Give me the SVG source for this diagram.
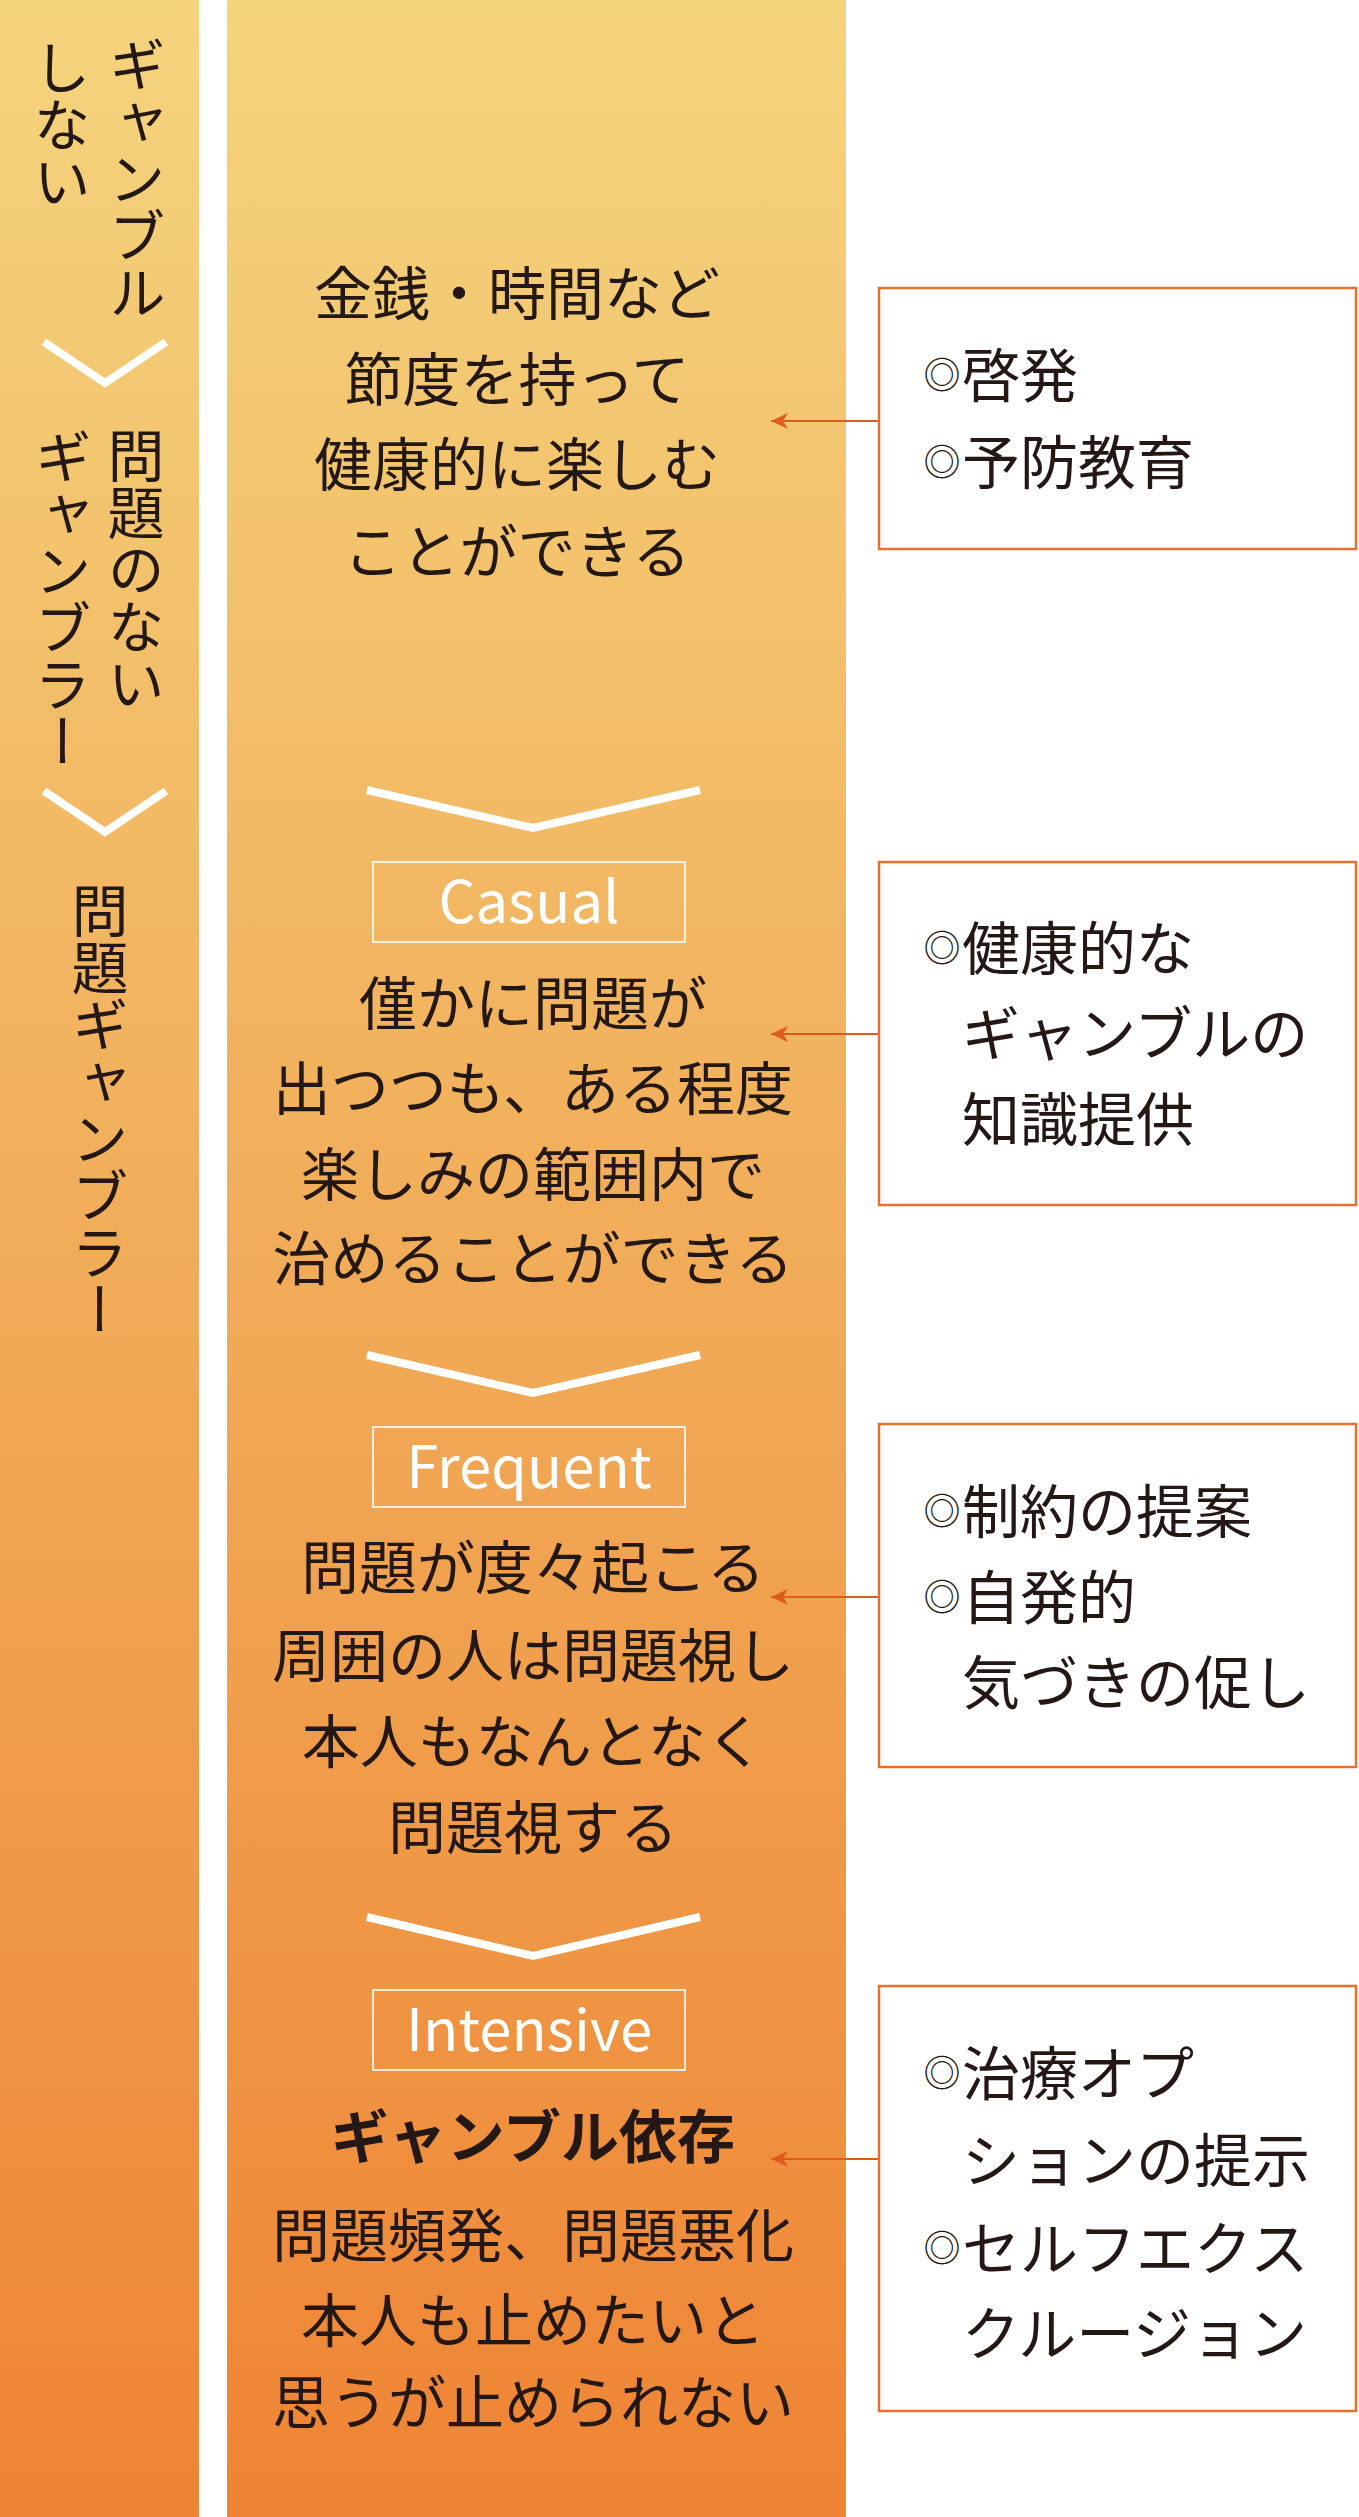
<svg xmlns="http://www.w3.org/2000/svg" width="1359" height="2517" viewBox="0 0 1359 2517">
<style>
.t{font-family:"Noto Sans CJK JP","Noto Sans",sans-serif;fill:#231815;}
.m{font-size:58px;text-anchor:middle;}
.b{font-size:58px;}
.o{font-size:37px;text-anchor:middle;}
.v{font-size:57px;writing-mode:vertical-rl;}
.lab{font-family:"Noto Sans CJK JP","Noto Sans",sans-serif;font-size:58px;fill:#ffffff;text-anchor:middle;}
.labbox{fill:none;stroke:#ffffff;stroke-width:1.6;}
.chev{fill:none;stroke:#ffffff;stroke-width:8;}
.box{fill:#ffffff;stroke:#E8702C;stroke-width:2.5;}
.con{fill:none;stroke:#DD5B1C;stroke-width:2;}
</style>
<defs>
<linearGradient id="g" gradientUnits="userSpaceOnUse" x1="0" y1="0" x2="0" y2="2517">
<stop offset="0" stop-color="#F4D47D"/>
<stop offset="1" stop-color="#EE8434"/>
</linearGradient>
<marker id="ah" markerWidth="20" markerHeight="18" refX="18" refY="9" orient="auto" markerUnits="userSpaceOnUse">
<path d="M18,9 L1,1 L6,9 L1,17 Z" fill="#DD5B1C"/>
</marker>
</defs>
<rect width="1359" height="2517" fill="#ffffff"/>
<g id="left-column">
<rect x="0" y="0" width="199" height="2517" fill="url(#g)"/>
<text class="t v" x="137" y="36">ギャンブル</text>
<text class="t v" x="62" y="39">しない</text>
<path class="chev" d="M44,342 L105,383 L166,342"/>
<text class="t v" x="136" y="427">問題のない</text>
<text class="t v" x="63" y="428">ギャンブラー</text>
<path class="chev" d="M44,791 L105,832 L166,791"/>
<text class="t v" x="100" y="882">問題ギャンブラー</text>
</g>
<g id="main-column">
<rect x="227" y="0" width="619" height="2517" fill="url(#g)"/>
</g>
<g id="stage-healthy">
<text class="t m" x="517" y="315">金銭・時間など</text>
<text class="t m" x="517" y="401">節度を持って</text>
<text class="t m" x="517" y="486">健康的に楽しむ</text>
<text class="t m" x="517" y="573">ことができる</text>
</g>
<path class="chev" d="M367,790 L533,828 L700,790"/>
<g id="stage-casual">
<rect class="labbox" x="373" y="862" width="312" height="80"/>
<text class="lab" x="529" y="923">Casual</text>
<text class="t m" x="533" y="1025">僅かに問題が</text>
<text class="t m" x="533" y="1110">出つつも、ある程度</text>
<text class="t m" x="533" y="1196">楽しみの範囲内で</text>
<text class="t m" x="533" y="1280">治めることができる</text>
</g>
<path class="chev" d="M367,1355 L533,1393 L700,1355"/>
<g id="stage-frequent">
<rect class="labbox" x="373" y="1427" width="312" height="80"/>
<text class="lab" x="529" y="1488">Frequent</text>
<text class="t m" x="533" y="1589">問題が度々起こる</text>
<text class="t m" x="533" y="1677">周囲の人は問題視し</text>
<text class="t m" x="533" y="1763">本人もなんとなく</text>
<text class="t m" x="533" y="1849">問題視する</text>
</g>
<path class="chev" d="M367,1917 L533,1956 L700,1917"/>
<g id="stage-intensive">
<rect class="labbox" x="373" y="1990" width="312" height="80"/>
<text class="lab" x="529" y="2051">Intensive</text>
<text class="t m" x="533" y="2158" font-weight="bold" font-size="63">ギャンブル依存</text>
<text class="t m" x="533" y="2257">問題頻発、問題悪化</text>
<text class="t m" x="533" y="2342">本人も止めたいと</text>
<text class="t m" x="533" y="2424">思うが止められない</text>
</g>
<g id="connectors">
<path class="con" d="M878,421 L771,421" marker-end="url(#ah)"/>
<path class="con" d="M878,1034 L771,1034" marker-end="url(#ah)"/>
<path class="con" d="M878,1597 L771,1597" marker-end="url(#ah)"/>
<path class="con" d="M878,2159 L771,2159" marker-end="url(#ah)"/>
</g>
<g id="support-1">
<rect class="box" x="879" y="288" width="477" height="261"/>
<text class="t o" x="942" y="389">◎</text>
<text class="t b" x="962" y="397">啓発</text>
<text class="t o" x="942" y="476">◎</text>
<text class="t b" x="962" y="484">予防教育</text>
</g>
<g id="support-2">
<rect class="box" x="879" y="862" width="477" height="343"/>
<text class="t o" x="942" y="962">◎</text>
<text class="t b" x="962" y="970">健康的な</text>
<text class="t b" x="962" y="1055">ギャンブルの</text>
<text class="t b" x="962" y="1141">知識提供</text>
</g>
<g id="support-3">
<rect class="box" x="879" y="1424" width="477" height="343"/>
<text class="t o" x="942" y="1525">◎</text>
<text class="t b" x="962" y="1533">制約の提案</text>
<text class="t o" x="942" y="1611">◎</text>
<text class="t b" x="962" y="1619">自発的</text>
<text class="t b" x="962" y="1704">気づきの促し</text>
</g>
<g id="support-4">
<rect class="box" x="879" y="1986" width="477" height="425"/>
<text class="t o" x="942" y="2087">◎</text>
<text class="t b" x="962" y="2095">治療オプ</text>
<text class="t b" x="962" y="2182">ションの提示</text>
<text class="t o" x="942" y="2262">◎</text>
<text class="t b" x="962" y="2270">セルフエクス</text>
<text class="t b" x="962" y="2355">クルージョン</text>
</g>
</svg>
